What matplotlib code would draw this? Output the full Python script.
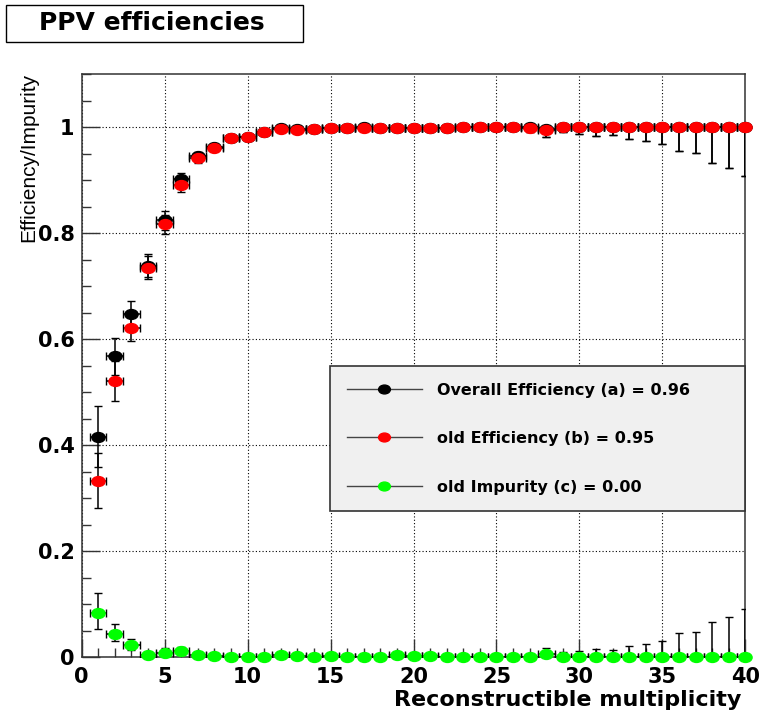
import matplotlib
matplotlib.use("Agg")
import matplotlib.pyplot as plt
from matplotlib.lines import Line2D
from matplotlib.patches import Rectangle
from matplotlib.path import Path
from matplotlib.ticker import MultipleLocator, FixedLocator

# reconstructible multiplicity bins
multiplicity = [1, 2, 3, 4, 5, 6, 7, 8, 9, 10,
                11, 12, 13, 14, 15, 16, 17, 18, 19, 20,
                21, 22, 23, 24, 25, 26, 27, 28, 29, 30,
                31, 32, 33, 34, 35, 36, 37, 38, 39, 40]

# overall efficiency (a)
eff_all = [0.416, 0.568, 0.648, 0.739, 0.824, 0.903, 0.945, 0.962, 0.980, 0.982,
           0.991, 0.998, 0.997, 0.997, 0.998, 0.998, 1.000, 0.999, 0.999, 0.999,
           0.999, 0.999, 1.000, 1.000, 1.000, 1.000, 1.000, 0.997, 1.000, 1.000,
           1.000, 1.000, 1.000, 1.000, 1.000, 1.000, 1.000, 1.000, 1.000, 1.000]
eff_all_lo = [0.056, 0.035, 0.024, 0.022, 0.018, 0.012, 0.009, 0.007, 0.005, 0.005,
              0.004, 0.003, 0.003, 0.003, 0.002, 0.002, 0.002, 0.002, 0.002, 0.002,
              0.002, 0.002, 0.003, 0.003, 0.004, 0.005, 0.009, 0.015, 0.010, 0.013,
              0.016, 0.015, 0.022, 0.026, 0.032, 0.046, 0.049, 0.067, 0.077, 0.092]
eff_all_hi = [0.058, 0.034, 0.024, 0.021, 0.018, 0.011, 0.008, 0.006, 0.004, 0.004,
              0.003, 0.002, 0.002, 0.002, 0.002, 0.002, 0.000, 0.001, 0.001, 0.001,
              0.001, 0.001, 0.000, 0.000, 0.000, 0.000, 0.000, 0.002, 0.000, 0.000,
              0.000, 0.000, 0.000, 0.000, 0.000, 0.000, 0.000, 0.000, 0.000, 0.000]

# old efficiency (b)
eff_old = [0.332, 0.522, 0.622, 0.735, 0.817, 0.890, 0.942, 0.961, 0.980, 0.982,
           0.991, 0.997, 0.995, 0.997, 0.998, 0.998, 0.999, 0.999, 0.998, 0.999,
           0.999, 0.999, 1.000, 1.000, 1.000, 1.000, 0.999, 0.994, 1.000, 1.000,
           1.000, 1.000, 1.000, 1.000, 1.000, 1.000, 1.000, 1.000, 1.000, 1.000]
eff_old_lo = [0.050, 0.038, 0.025, 0.022, 0.018, 0.013, 0.009, 0.007, 0.005, 0.005,
              0.004, 0.003, 0.003, 0.003, 0.002, 0.002, 0.002, 0.002, 0.002, 0.002,
              0.002, 0.002, 0.003, 0.003, 0.004, 0.005, 0.009, 0.012, 0.010, 0.013,
              0.016, 0.015, 0.022, 0.026, 0.032, 0.046, 0.049, 0.067, 0.077, 0.092]
eff_old_hi = [0.053, 0.037, 0.025, 0.022, 0.018, 0.012, 0.008, 0.006, 0.004, 0.004,
              0.003, 0.002, 0.002, 0.002, 0.002, 0.002, 0.001, 0.001, 0.001, 0.001,
              0.001, 0.001, 0.000, 0.000, 0.000, 0.000, 0.001, 0.003, 0.000, 0.000,
              0.000, 0.000, 0.000, 0.000, 0.000, 0.000, 0.000, 0.000, 0.000, 0.000]

# old impurity (c)
imp_old = [0.084, 0.045, 0.024, 0.005, 0.009, 0.012, 0.004, 0.003, 0.000, 0.000,
           0.000, 0.004, 0.003, 0.000, 0.003, 0.000, 0.000, 0.000, 0.004, 0.003,
           0.002, 0.000, 0.000, 0.000, 0.000, 0.000, 0.000, 0.006, 0.000, 0.000,
           0.000, 0.000, 0.000, 0.000, 0.000, 0.000, 0.000, 0.000, 0.000, 0.000]
imp_old_lo = [0.030, 0.013, 0.009, 0.003, 0.004, 0.005, 0.002, 0.002, 0.000, 0.000,
              0.000, 0.002, 0.002, 0.000, 0.002, 0.000, 0.000, 0.000, 0.002, 0.002,
              0.001, 0.000, 0.000, 0.000, 0.000, 0.000, 0.000, 0.003, 0.000, 0.000,
              0.000, 0.000, 0.000, 0.000, 0.000, 0.000, 0.000, 0.000, 0.000, 0.000]
imp_old_hi = [0.038, 0.019, 0.011, 0.006, 0.008, 0.008, 0.005, 0.005, 0.004, 0.004,
              0.004, 0.005, 0.005, 0.004, 0.005, 0.004, 0.004, 0.004, 0.005, 0.005,
              0.005, 0.005, 0.005, 0.005, 0.006, 0.006, 0.007, 0.011, 0.010, 0.013,
              0.016, 0.015, 0.022, 0.026, 0.032, 0.046, 0.049, 0.067, 0.077, 0.092]

bin_half_width = 0.5

series = [
    ('Overall Efficiency (a) = 0.96', eff_all, eff_all_lo, eff_all_hi, 'black'),
    ('old Efficiency (b) = 0.95', eff_old, eff_old_lo, eff_old_hi, '#ff0000'),
    ('old Impurity (c) = 0.00', imp_old, imp_old_lo, imp_old_hi, '#00ff00'),
]

y_ticks = [0.0, 0.2, 0.4, 0.6, 0.8, 1.0]
y_tick_labels = ['0', '0.2', '0.4', '0.6', '0.8', '1']
x_ticks = [0, 5, 10, 15, 20, 25, 30, 35, 40]

# ROOT style markers look a bit squashed in the picture
circ = Path.unit_circle()
ellipse = Path(circ.vertices * [1.0, 0.75], circ.codes)

fig = plt.figure(figsize=(7.59, 7.23), dpi=100)
ax = fig.add_axes([0.1074, 0.0906, 0.8748, 0.807])

handles = []
for label, vals, lo, hi, col in series:
    ax.errorbar(multiplicity, vals, yerr=[lo, hi], xerr=bin_half_width,
                fmt='none', ecolor='black', elinewidth=1.1, capsize=3,
                capthick=1.0, zorder=3)
    ax.plot(multiplicity, vals, linestyle='none', marker=ellipse, markersize=9.5,
            color=col, markeredgecolor=col, clip_on=False, zorder=4)
    handles.append(Line2D([], [], color='#444444', lw=1.0, marker=ellipse,
                          markersize=8.5, markerfacecolor=col,
                          markeredgecolor=col, label=label))

ax.set_xlim(0, 40)
ax.set_ylim(0, 1.1)

ax.xaxis.set_major_locator(FixedLocator(x_ticks))
ax.xaxis.set_minor_locator(MultipleLocator(1))
ax.yaxis.set_major_locator(FixedLocator(y_ticks))
ax.yaxis.set_minor_locator(MultipleLocator(0.05))
ax.set_yticklabels(y_tick_labels)

ax.tick_params(which='both', direction='in', top=False, right=False,
               color='#333333', width=1.0)
ax.tick_params(which='major', length=13)
ax.tick_params(which='minor', length=6.5)
ax.tick_params(axis='both', labelsize=15)
ax.tick_params(axis='y', pad=5)
ax.tick_params(axis='x', pad=7)
for lbl in ax.get_xticklabels() + ax.get_yticklabels():
    lbl.set_fontweight('bold')

for sp in ax.spines.values():
    sp.set_color('#333333')
    sp.set_linewidth(1.1)

ax.grid(True, which='major', color='black', linestyle=(0, (1, 2)), linewidth=0.8)
ax.set_axisbelow(True)

leg = ax.legend(handles=handles, loc='upper left',
                bbox_to_anchor=(0.374, 0.25, 0.625, 0.25), mode='expand',
                borderaxespad=0, prop={'weight': 'bold', 'size': 11.5},
                handlelength=4.7, handletextpad=0.95, labelspacing=2.1,
                borderpad=1.05, fancybox=False, framealpha=1, numpoints=1)
leg.get_frame().set_facecolor('#f0f0f0')
leg.get_frame().set_edgecolor('#333333')
leg.get_frame().set_linewidth(1.2)
leg.set_zorder(10)

# title box in the top left corner
fig.add_artist(Rectangle((6 / 759, 1 - 42 / 723), 297 / 759, 37 / 723,
                         transform=fig.transFigure, facecolor='white',
                         edgecolor='black', linewidth=1.0))
fig.text(152 / 759, 1 - 23 / 723, 'PPV efficiencies', ha='center', va='center',
         fontsize=18, fontweight='bold')

fig.text(29 / 759, 1 - 157 / 723, 'Efficiency/Impurity', rotation=90,
         ha='center', va='center', fontsize=15, family='Liberation Sans')
fig.text(741 / 759, 1 - 700 / 723, 'Reconstructible multiplicity', ha='right',
         va='center', fontsize=16, fontweight='bold')

fig.savefig('out.png', dpi=100)
